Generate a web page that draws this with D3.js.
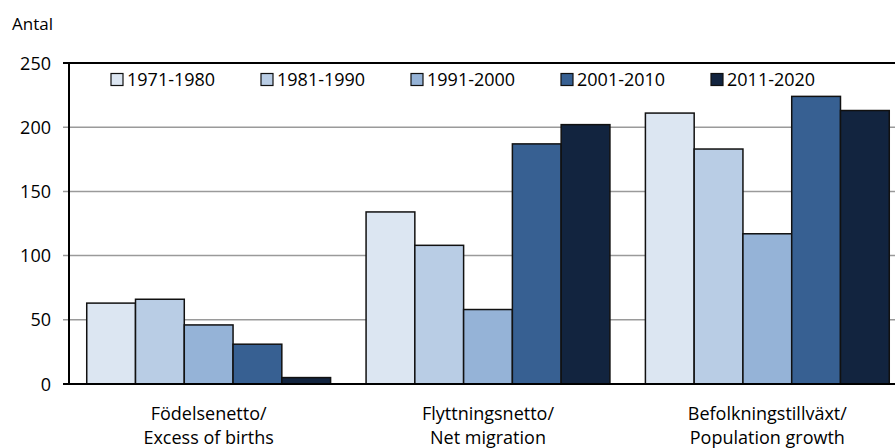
<!DOCTYPE html>
<html><head><meta charset="utf-8">
<script src="https://cdn.jsdelivr.net/npm/d3@7/dist/d3.min.js"></script>
<style>body{margin:0;background:#fff}svg{display:block}text{font-family:"Open Sans",sans-serif;fill:#000}</style>
</head><body><svg id="c" width="895" height="448"></svg>
<script>
const categories = [["Födelsenetto/","Excess of births"],["Flyttningsnetto/","Net migration"],["Befolkningstillväxt/","Population growth"]];
const series = ["1971-1980","1981-1990","1991-2000","2001-2010","2011-2020"];
const colors = ["#dce6f2","#b9cde5","#95b3d7","#376092","#12243f"];
const v1971 = [63, 134, 211];
const v1981 = [66, 108, 183];
const v1991 = [46, 58, 117];
const v2001 = [31, 187, 224];
const v2011 = [5, 202, 213];
const values = [v1971, v1981, v1991, v2001, v2011];
const yTicks = [0, 50, 100, 150, 200, 250];

const svg = d3.select("#c");
const x0 = d3.scaleBand().domain(d3.range(categories.length)).range([69, 907]).paddingInner(0.127).paddingOuter(0.0635);
const x1 = d3.scaleBand().domain(d3.range(series.length)).range([0, x0.bandwidth()]);
const y = d3.scaleLinear().domain([0, 250]).range([384, 63]);

// gridlines
svg.append("g").selectAll("line").data(yTicks).join("line")
  .attr("x1", 63).attr("x2", 895).attr("y1", d => y(d)).attr("y2", d => y(d))
  .attr("stroke", d => (d === 0 || d === 250) ? "#000" : "#9a9a9a")
  .attr("stroke-width", d => (d === 0 || d === 250) ? 2 : 1.5);

// bars
const g = svg.append("g");
categories.forEach((c, ci) => {
  series.forEach((s, si) => {
    g.append("rect")
      .attr("x", x0(ci) + x1(si))
      .attr("y", y(values[si][ci]))
      .attr("width", x1.bandwidth())
      .attr("height", y(0) - y(values[si][ci]))
      .attr("fill", colors[si]).attr("stroke", "#111").attr("stroke-width", 1.5);
  });
});

// axes lines
svg.append("line").attr("x1", 69).attr("x2", 69).attr("y1", y(250)).attr("y2", y(0)).attr("stroke", "#000").attr("stroke-width", 2);
svg.append("line").attr("x1", 63).attr("x2", 895).attr("y1", y(0)).attr("y2", y(0)).attr("stroke", "#000").attr("stroke-width", 2);

// y labels
svg.append("g").selectAll("text").data(yTicks).join("text")
  .attr("x", 51).attr("y", d => y(d) + 6.5).attr("text-anchor", "end")
  .attr("font-size", 18).text(d => d);
svg.append("text").attr("x", 12).attr("y", 30).attr("font-size", 17).text("Antal");

// category labels
categories.forEach((c, ci) => {
  const cx = x0(ci) + x0.bandwidth() / 2;
  c.forEach((line, li) => {
    svg.append("text").attr("x", cx).attr("y", 420 + li * 24).attr("text-anchor", "middle")
      .attr("font-size", 18).text(line);
  });
});

// legend
const lg = svg.append("g");
series.forEach((s, si) => {
  const lx = 111 + si * 150;
  lg.append("rect").attr("x", lx).attr("y", 73.5).attr("width", 12).attr("height", 12)
    .attr("fill", colors[si]).attr("stroke", "#111").attr("stroke-width", 1.2);
  lg.append("text").attr("x", lx + 16).attr("y", 86).attr("font-size", 18).text(s);
});
</script></body></html>
